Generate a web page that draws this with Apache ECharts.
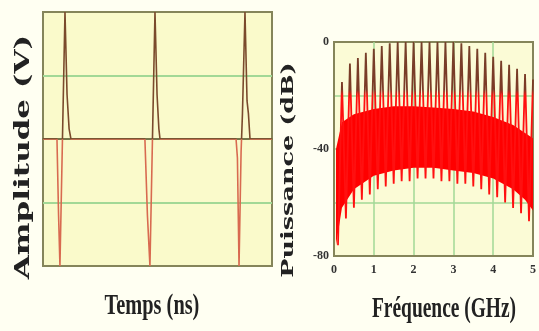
<!DOCTYPE html>
<html>
<head>
<meta charset="utf-8">
<script src="https://cdn.jsdelivr.net/npm/echarts@6/dist/echarts.min.js"></script>
<style>
  html, body { margin: 0; padding: 0; background: #fffff2; }
  #chart { width: 539px; height: 331px; }
</style>
</head>
<body>
<div id="chart"></div>
<script>
// left panel: pulse train (time in ns, amplitude in V)
const timeNs = [0, 0.61, 0.68, 0.74, 0.85, 0.96, 1.05, 1.14, 1.22,
  4.45, 4.56, 4.67, 4.78, 4.89, 4.98, 5.06, 5.11,
  8.43, 8.49, 8.56, 8.65, 8.71, 8.82, 8.91, 8.97, 9.04, 10];
const ampV = [0, 0, -0.6, -1, 0, 1, 0.35, 0.08, 0,
  0, -0.6, -1, 0, 1, 0.35, 0.08, 0,
  0, -0.15, -1, -0.1, 0.2, 1, 0.3, 0.2, 0, 0];

// right panel: spectrum, harmonic peaks and the notches between them
const peakFreq = [0.2, 0.4, 0.6, 0.8, 1.0, 1.2, 1.4, 1.6, 1.8, 2.0, 2.2, 2.4, 2.6,
  2.8, 3.0, 3.2, 3.4, 3.6, 3.8, 4.0, 4.2, 4.4, 4.6, 4.8, 5.0];
const peakDb = [-15, -8, -6, -4, -2.5, -1.5, -0.5, 0, 0, 0, 0, 0, 0,
  0, 0, -0.5, -1.5, -2.5, -4, -5.5, -7, -8.5, -10, -12, -14];
const valleyFreq = [0.1, 0.3, 0.5, 0.7, 0.9, 1.1, 1.3, 1.5, 1.7, 1.9, 2.1, 2.3, 2.5,
  2.7, 2.9, 3.1, 3.3, 3.5, 3.7, 3.9, 4.1, 4.3, 4.5, 4.7, 4.9];
const valleyDb = [-76, -66, -62, -59, -57, -55, -54, -53, -52, -52, -51, -51, -51,
  -52, -52, -53, -53, -54, -55, -57, -58, -60, -62, -64, -67];

// dense red noise band of the spectrum
const bandFreq = [0.05, 0.2, 0.5, 1, 1.5, 2, 2.5, 3, 3.5, 4, 4.5, 4.8, 5];
const bandTopDb = [-40, -30, -27, -25, -24, -24, -24.5, -25, -26, -28, -31, -34, -36];
const bandLowDb = [-76, -62, -55, -50, -48, -47, -47, -48, -49, -51, -55, -59, -63];

const dbTicks = [0, -40, -80];
const freqTicks = [0, 1, 2, 3, 4, 5];

const frame = '#85855a';
const green = '#a2d896';
const serif = '"Liberation Serif", "DejaVu Serif", serif';

const traceData = timeNs.map((t, i) => [t, ampV[i]]);
const spikeData = [];
peakFreq.forEach((f, i) => {
  spikeData.push([valleyFreq[i], valleyDb[i]]);
  spikeData.push([f, peakDb[i]]);
});
const bandData = bandFreq.map((f, i) => [f, bandTopDb[i], bandLowDb[i]]);

// dark above the zero line, salmon red below
const traceColor = new echarts.graphic.LinearGradient(0, 0, 0, 1, [
  { offset: 0, color: '#7a4a2c' }, { offset: 0.5, color: '#7a4a2c' },
  { offset: 0.5, color: '#d86a50' }, { offset: 1, color: '#d86a50' }
]);
// spikes: dark brown above the band, red inside and below it
const spikeColor = new echarts.graphic.LinearGradient(0, 0, 0, 1, [
  { offset: 0, color: '#74402a' }, { offset: 0.24, color: '#7c3a26' },
  { offset: 0.27, color: '#ff1010' }, { offset: 1, color: '#ff1010' }
]);

// the band is one polygon: along the top edge, back along the bottom edge
function renderBand(params, api) {
  if (params.dataIndex !== 0) return;
  const top = bandFreq.map((f, i) => api.coord([f, bandTopDb[i]]));
  const low = bandFreq.map((f, i) => api.coord([f, bandLowDb[i]])).reverse();
  return {
    type: 'polygon',
    shape: { points: top.concat(low) },
    style: { fill: '#ff0000' }
  };
}

const chart = echarts.init(document.getElementById('chart'));

chart.setOption({
  backgroundColor: '#fffff2',
  animation: false,
  grid: [
    { left: 43, top: 12, width: 229, height: 254, show: true,
      backgroundColor: '#fafacb', borderColor: frame, borderWidth: 2 },
    { left: 334, top: 42, width: 204, height: 214, show: true,
      backgroundColor: '#fbfbd6', borderColor: frame, borderWidth: 2 }
  ],
  xAxis: [
    { type: 'value', gridIndex: 0, min: 0, max: 10,
      axisLine: { show: true, onZero: true, lineStyle: { color: '#76764a', width: 2 } },
      axisTick: { show: false }, axisLabel: { show: false }, splitLine: { show: false } },
    { type: 'value', gridIndex: 1, min: 0, max: 5, interval: 1,
      axisLine: { show: true, onZero: false, lineStyle: { color: frame, width: 2 } },
      axisTick: { show: false },
      axisLabel: {
        margin: 8, color: '#333', fontFamily: serif, fontWeight: 'bold', fontSize: 12,
        formatter: v => freqTicks.includes(v) ? String(v) : ''
      },
      splitLine: { show: true, showMinLine: false, showMaxLine: false,
        lineStyle: { color: green, width: 1.5 } } }
  ],
  yAxis: [
    { type: 'value', gridIndex: 0, min: -1, max: 1, interval: 0.5,
      axisLine: { show: false }, axisTick: { show: false }, axisLabel: { show: false },
      splitLine: { show: true, showMinLine: false, showMaxLine: false,
        lineStyle: { color: green, width: 2 } } },
    { type: 'value', gridIndex: 1, min: -80, max: 0, interval: 20,
      axisLine: { show: true, lineStyle: { color: frame, width: 2 } },
      axisTick: { show: false },
      axisLabel: {
        margin: 5, color: '#333', fontFamily: serif, fontWeight: 'bold', fontSize: 12,
        formatter: v => dbTicks.includes(v) ? String(v) : ''
      },
      splitLine: { show: true, showMinLine: false, showMaxLine: false,
        lineStyle: { color: green, width: 1.5 } } }
  ],
  series: [
    { name: 'Amplitude', type: 'line', xAxisIndex: 0, yAxisIndex: 0,
      data: traceData, symbol: 'none', lineStyle: { width: 1.6, color: traceColor } },
    { name: 'Pics', type: 'line', xAxisIndex: 1, yAxisIndex: 1,
      data: spikeData, symbol: 'none', lineStyle: { width: 1.8, color: spikeColor } },
    { name: 'Puissance', type: 'custom', xAxisIndex: 1, yAxisIndex: 1,
      data: bandData, encode: { x: 0, y: [1, 2] }, clip: true,
      renderItem: renderBand }
  ],
  graphic: [
    { type: 'text', x: 24, y: 157, rotation: Math.PI / 2, scaleX: 1.55,
      style: { text: 'Amplitude (V)', font: 'bold 20px "DejaVu Serif"', fill: '#222',
        textAlign: 'center', textVerticalAlign: 'middle' } },
    { type: 'text', x: 152, y: 306, scaleX: 1.13, scaleY: 1.65,
      style: { text: 'Temps (ns)', font: 'bold 18px "Liberation Serif"', fill: '#222',
        textAlign: 'center', textVerticalAlign: 'middle' } },
    { type: 'text', x: 289, y: 170, rotation: Math.PI / 2, scaleX: 1.5,
      style: { text: 'Puissance (dB)', font: 'bold 17px "DejaVu Serif"', fill: '#222',
        textAlign: 'center', textVerticalAlign: 'middle' } },
    { type: 'text', x: 444, y: 309, scaleX: 1.08, scaleY: 1.65,
      style: { text: 'Fréquence (GHz)', font: 'bold 18px "Liberation Serif"', fill: '#222',
        textAlign: 'center', textVerticalAlign: 'middle' } }
  ]
});
</script>
</body>
</html>
